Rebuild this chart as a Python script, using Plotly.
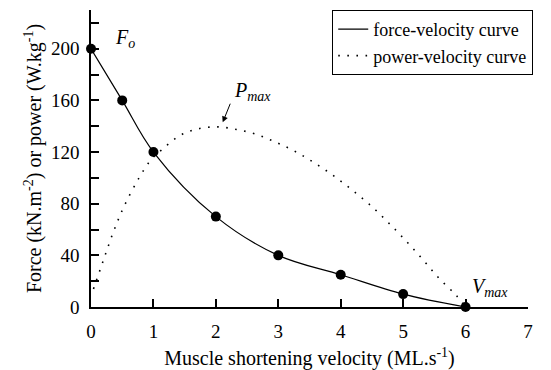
import plotly.graph_objects as go

# Force-velocity data points
force_v = [0, 0.5, 1, 2, 3, 4, 5, 6]
force_f = [200, 160, 120, 70, 40, 25, 10, 0]

# Power-velocity curve
power_v = [0.04, 0.19, 0.35, 0.53, 0.77, 0.96, 1.14, 1.43, 1.72, 2.03, 2.33, 2.63,
           2.94, 3.25, 3.55, 3.86, 4.16, 4.46, 4.76, 5.03, 5.31, 5.58, 5.85, 6.0]
power_p = [14, 35, 57, 78, 100, 114, 122, 133, 138, 139.5, 137.5, 134,
           128, 121, 112.5, 102.5, 91.5, 79.5, 65.5, 52, 37, 22, 9, 0]

x_ticks = [0, 1, 2, 3, 4, 5, 6, 7]
y_ticks = [0, 40, 80, 120, 160, 200]

FONT = "Liberation Serif"

fig = go.Figure()
fig.add_trace(go.Scatter(
    x=force_v, y=force_f, mode="lines", line=dict(color="black", width=1.2, shape="spline"),
    name="force-velocity curve"))
fig.add_trace(go.Scatter(
    x=power_v, y=power_p, mode="lines",
    line=dict(color="black", width=1.6, dash="1.6px,7.5px", shape="spline"),
    name="power-velocity curve"))
fig.add_trace(go.Scatter(
    x=force_v, y=force_f, mode="markers", marker=dict(color="black", size=10),
    showlegend=False, cliponaxis=False))

fig.add_annotation(x=0.36, y=208, text="<i>F<sub>o</sub></i>", showarrow=False,
                   xanchor="left", yanchor="middle", font=dict(family=FONT, size=20, color="black"))
fig.add_annotation(x=2.26, y=167, text="<i>P<sub>max</sub></i>", showarrow=False,
                   xanchor="left", yanchor="middle", font=dict(family=FONT, size=20, color="black"))
fig.add_annotation(x=6.07, y=15, text="<i>V<sub>max</sub></i>", showarrow=False,
                   xanchor="left", yanchor="middle", font=dict(family=FONT, size=20, color="black"))
fig.add_annotation(x=2.11, y=143, ax=2.24, ay=158.6, axref="x", ayref="y", xref="x", yref="y",
                   text="", showarrow=True, arrowhead=2, arrowsize=1.2, arrowwidth=1, arrowcolor="black")

fig.update_layout(
    width=551, height=370,
    margin=dict(l=91, r=23, t=10, b=63),
    paper_bgcolor="white", plot_bgcolor="white",
    font=dict(family=FONT, size=19, color="black"),
    showlegend=True,
    legend=dict(x=0.552, y=1.0, xanchor="left", yanchor="top",
                bordercolor="black", borderwidth=1, bgcolor="white",
                font=dict(family=FONT, size=18), tracegroupgap=0,
                itemwidth=30),
    xaxis=dict(range=[0, 7], tickvals=x_ticks, ticktext=[str(v) for v in x_ticks],
               showline=True, linecolor="black", linewidth=1.5, ticks="inside", ticklen=8,
               tickcolor="black", tickwidth=1.5, showgrid=False, zeroline=False,
               ticklabelstandoff=6, tickfont=dict(size=19), automargin=False,
               title=dict(text="Muscle shortening velocity (ML.s<sup>-1</sup>)",
                          font=dict(size=20))),
    yaxis=dict(range=[0, 230], tickvals=y_ticks, ticktext=[str(v) for v in y_ticks],
               showline=True, linecolor="black", linewidth=1.5, ticks="inside", ticklen=8,
               tickcolor="black", tickwidth=1.5, showgrid=False, zeroline=False,
               ticklabelstandoff=6, tickfont=dict(size=19), automargin=False,
               minor=dict(dtick=20, tick0=0, ticks="inside", ticklen=8, tickcolor="black",
                          tickwidth=1.5, showgrid=False),
               title=dict(text="Force (kN.m<sup>-2</sup>) or power (W.kg<sup>-1</sup>)",
                          standoff=4, font=dict(size=20))),
)

fig.write_html("out.html")
